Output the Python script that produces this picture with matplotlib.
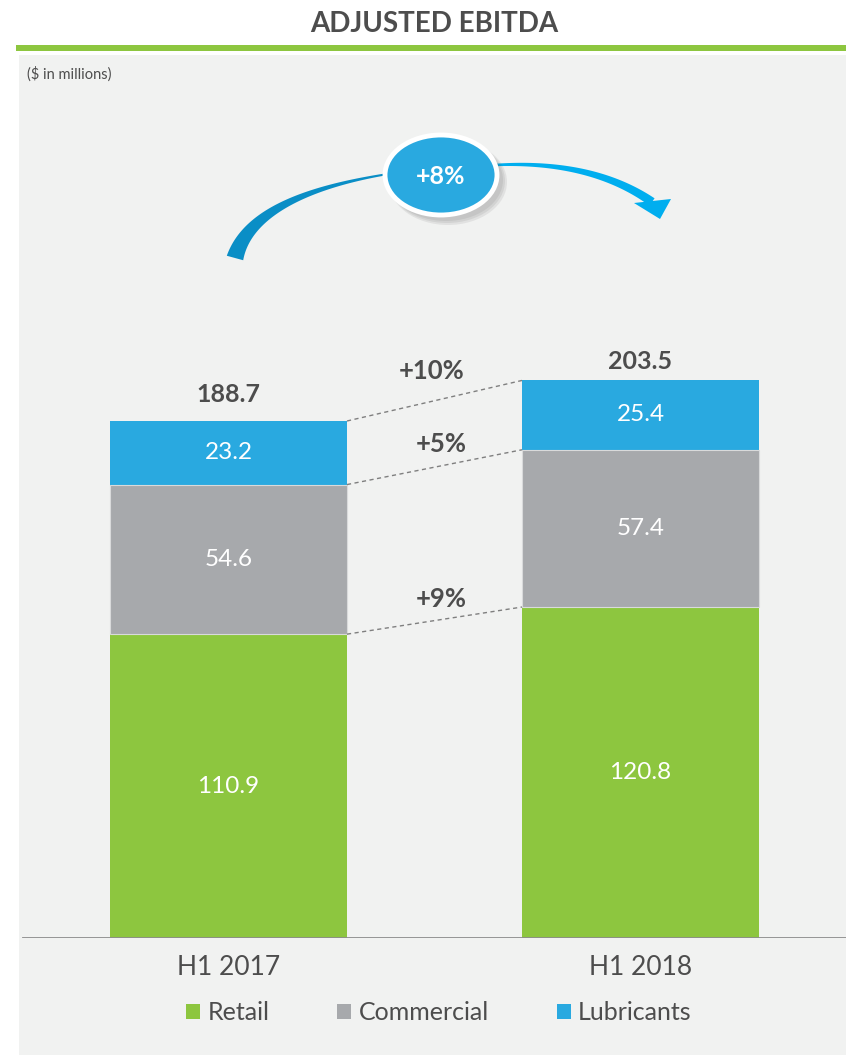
import numpy as np
import matplotlib.pyplot as plt
from matplotlib.patches import Rectangle, Ellipse, Polygon

plt.rcParams['font.family'] = ['Lato', 'DejaVu Sans']

# data
periods = ['H1 2017', 'H1 2018']
segments = ['Retail', 'Commercial', 'Lubricants']
retail = [110.9, 120.8]
commercial = [54.6, 57.4]
lubricants = [23.2, 25.4]
totals = [188.7, 203.5]
seg_growth = ['+9%', '+5%', '+10%']
total_growth = '+8%'

GREEN = '#8DC63F'
GRAY = '#A7A9AC'
BLUE = '#29A9E0'
TEXT = '#4D4D4D'
PANEL = '#F1F2F1'

fig = plt.figure(figsize=(8.46, 10.55), dpi=100)
fig.patch.set_facecolor('white')

# background / decoration layer in pixel coordinates
bg = fig.add_axes([0, 0, 1, 1], zorder=0)
bg.set_xlim(0, 846)
bg.set_ylim(1055, 0)
bg.axis('off')
bg.add_patch(Rectangle((19, 55), 827, 1000, color=PANEL, lw=0))
bg.add_patch(Rectangle((16, 45), 830, 6, color=GREEN, lw=0))
bg.text(434, 24, 'ADJUSTED EBITDA', ha='center', va='center',
        fontsize=20, fontweight='bold', color=TEXT)
bg.text(27, 74, '($ in millions)', ha='left', va='center', fontsize=10.5, color=TEXT)


def bezier(p0, p1, p2, n=120):
    t = np.linspace(0, 1, n)[:, None]
    p0, p1, p2 = map(np.asarray, (p0, p1, p2))
    pts = (1 - t) ** 2 * p0 + 2 * (1 - t) * t * p1 + t ** 2 * p2
    d = 2 * (1 - t) * (p1 - p0) + 2 * t * (p2 - p1)
    return t[:, 0], pts, d


def band(ax, p0, p1, p2, w0, w1, color, power=1.0):
    t, pts, d = bezier(p0, p1, p2)
    nrm = np.column_stack([-d[:, 1], d[:, 0]])
    nrm /= np.linalg.norm(nrm, axis=1)[:, None]
    w = w1 + (w0 - w1) * (1 - t) ** power
    upper = pts + nrm * (w / 2)[:, None]
    lower = pts - nrm * (w / 2)[:, None]
    poly = np.vstack([upper, lower[::-1]])
    ax.add_patch(Polygon(poly, closed=True, color=color, lw=0))


# growth arrow around the +8% bubble
band(bg, (235, 258), (252, 196), (388, 174), 17, 2, '#0A8EC6', power=1.4)
band(bg, (495, 165), (592, 160), (652, 202), 2.5, 9, '#00AEEF')
bg.add_patch(Polygon([(634, 203), (671, 199), (660, 219)], closed=True,
                     color='#00AEEF', lw=0))
for k, a in enumerate([0.10, 0.10, 0.10]):
    bg.add_patch(Ellipse((446 + k, 180 + k), 114 + 2 * k, 82 + 2 * k,
                         color='#555555', alpha=a, lw=0))
bg.add_patch(Ellipse((441, 175), 112, 80, facecolor=BLUE,
                     edgecolor='white', lw=3.5))
bg.text(441, 176, total_growth, ha='center', va='center', fontsize=18,
        fontweight='bold', color='white')

# main chart
left_px, top_px, base_px = 19, 55, 938
ax = fig.add_axes([left_px / 846, 1 - base_px / 1055,
                   (846 - left_px) / 846, (base_px - top_px) / 1055], zorder=1)
ax.patch.set_alpha(0)
px_per_unit = 517 / 188.7
ax.set_xlim(-(228.5 - left_px) / 412, 1 + (846 - 640.5) / 412)
ax.set_ylim(0, (base_px - top_px) / px_per_unit)

x = np.arange(len(periods))
width = 237 / 412
r = np.array(retail)
c = np.array(commercial)
l = np.array(lubricants)
b1 = ax.bar(x, r, width, color=GREEN, label=segments[0], lw=0)
b2 = ax.bar(x, c, width, bottom=r, color=GRAY, label=segments[1], lw=0)
b3 = ax.bar(x, l, width, bottom=r + c, color=BLUE, label=segments[2], lw=0)
ax.bar(x, c, width, bottom=r, fill=False, edgecolor='#D9DADB', lw=0.8)

for i in range(len(periods)):
    ax.text(x[i], r[i] / 2, f'{r[i]:.1f}', ha='center', va='center',
            fontsize=17.5, color='white')
    ax.text(x[i], r[i] + c[i] / 2, f'{c[i]:.1f}', ha='center', va='center',
            fontsize=17.5, color='white')
    ax.text(x[i], r[i] + c[i] + l[i] / 2, f'{l[i]:.1f}', ha='center',
            va='center', fontsize=17.5, color='white')

total_offsets = [27, 19]  # px above bar
for i in range(len(periods)):
    ax.annotate(f'{totals[i]:.1f}', (x[i], totals[i]),
                xytext=(0, total_offsets[i] * 0.72), textcoords='offset points',
                ha='center', va='center', fontsize=18, fontweight='bold',
                color=TEXT)

# dashed connectors between segment tops
tops0 = [r[0], r[0] + c[0], totals[0]]
tops1 = [r[1], r[1] + c[1], totals[1]]
label_off = [(441, 599), (441, 444), (432, 371)]
for j in range(3):
    ax.plot([x[0] + width / 2, x[1] - width / 2], [tops0[j], tops1[j]],
            ls=(0, (3, 2.5)), color='#7F7F7F', lw=1)
    lx = (label_off[j][0] - 228.5) / 412
    ly = (base_px - label_off[j][1]) / px_per_unit
    ax.text(lx, ly, seg_growth[j], ha='center', va='center', fontsize=18.5,
            fontweight='bold', color=TEXT)

ax.axhline(0, xmin=0.005, xmax=1.0, color='#8C8C8C', lw=2, zorder=5)
for s in ax.spines.values():
    s.set_visible(False)
ax.set_yticks([])
ax.set_xticks(x, periods)
ax.tick_params(axis='x', length=0, pad=12, labelsize=19, labelcolor=TEXT)

fig.legend(handles=[b1, b2, b3], labels=segments, loc='center',
           bbox_to_anchor=(439 / 846, 1 - 1013 / 1055), ncol=3, frameon=False,
           fontsize=18, labelcolor=TEXT, handlelength=0.56, handleheight=0.56,
           handletextpad=0.3, columnspacing=2.7, borderpad=0)

plt.savefig('out.png', dpi=100)
